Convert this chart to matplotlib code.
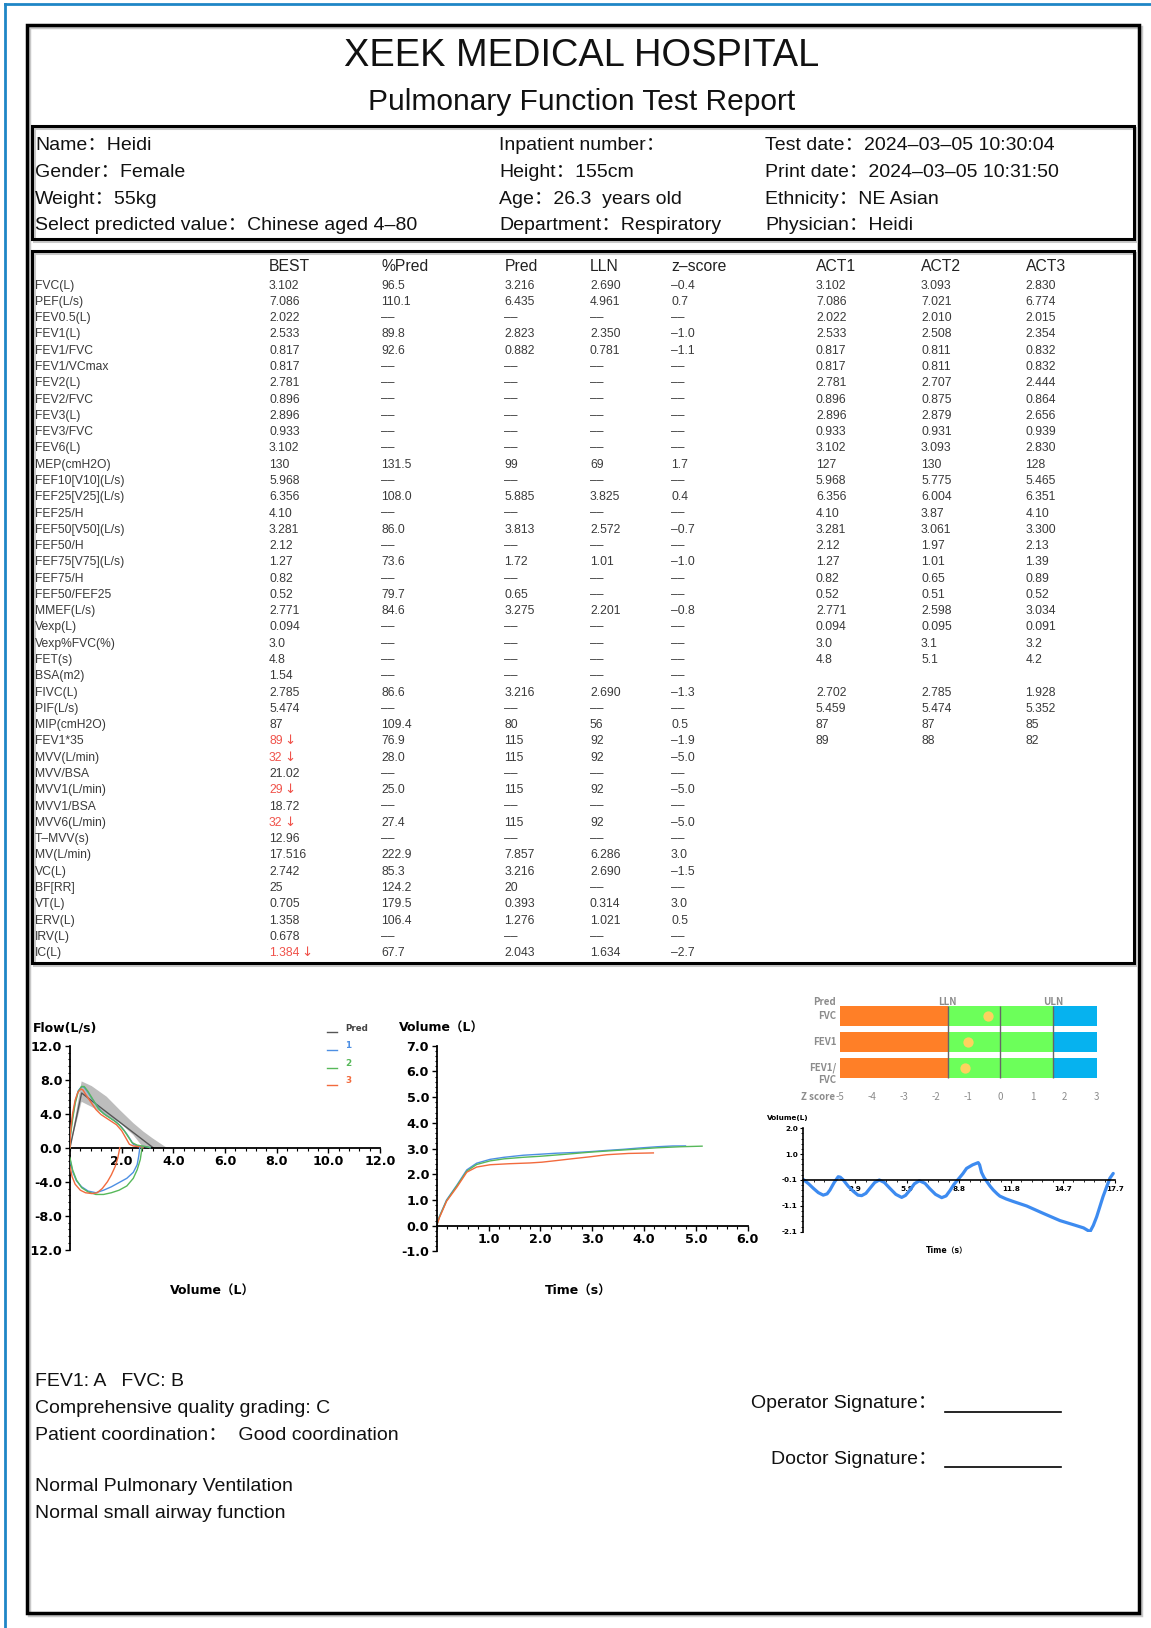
import matplotlib
matplotlib.use("Agg")
import matplotlib.pyplot as plt
from matplotlib.patches import Rectangle
from matplotlib.lines import Line2D
from matplotlib.ticker import AutoMinorLocator
import numpy as np

W, H = 1151, 1628

TEXT_FONT = ["Liberation Sans", "Noto Sans CJK SC", "DejaVu Sans"]
CHART_FONT = ["DejaVu Sans", "Noto Sans CJK SC"]
ZFONT = ["Noto Sans CJK SC", "DejaVu Sans"]

# ---- header / patient info ----
hospital = "XEEK MEDICAL HOSPITAL"
report_title = "Pulmonary Function Test Report"
info_col1 = ["Name：Heidi", "Gender：Female", "Weight：55kg",
             "Select predicted value：Chinese aged 4–80"]
info_col2 = ["Inpatient number：", "Height：155cm", "Age：26.3  years old",
             "Department：Respiratory"]
info_col3 = ["Test date：2024–03–05 10:30:04", "Print date：2024–03–05 10:31:50",
             "Ethnicity：NE Asian", "Physician：Heidi"]

# ---- results table ----
D = "––"
columns = ["BEST", "%Pred", "Pred", "LLN", "z–score", "ACT1", "ACT2", "ACT3"]
params = ["FVC(L)", "PEF(L/s)", "FEV0.5(L)", "FEV1(L)", "FEV1/FVC", "FEV1/VCmax",
          "FEV2(L)", "FEV2/FVC", "FEV3(L)", "FEV3/FVC", "FEV6(L)", "MEP(cmH2O)",
          "FEF10[V10](L/s)", "FEF25[V25](L/s)", "FEF25/H", "FEF50[V50](L/s)",
          "FEF50/H", "FEF75[V75](L/s)", "FEF75/H", "FEF50/FEF25", "MMEF(L/s)",
          "Vexp(L)", "Vexp%FVC(%)", "FET(s)", "BSA(m2)", "FIVC(L)", "PIF(L/s)",
          "MIP(cmH2O)", "FEV1*35", "MVV(L/min)", "MVV/BSA", "MVV1(L/min)",
          "MVV1/BSA", "MVV6(L/min)", "T–MVV(s)", "MV(L/min)", "VC(L)", "BF[RR]",
          "VT(L)", "ERV(L)", "IRV(L)", "IC(L)"]
best = ["3.102", "7.086", "2.022", "2.533", "0.817", "0.817", "2.781", "0.896",
        "2.896", "0.933", "3.102", "130", "5.968", "6.356", "4.10", "3.281", "2.12",
        "1.27", "0.82", "0.52", "2.771", "0.094", "3.0", "4.8", "1.54", "2.785",
        "5.474", "87", "89", "32", "21.02", "29", "18.72", "32", "12.96", "17.516",
        "2.742", "25", "0.705", "1.358", "0.678", "1.384"]
pct_pred = ["96.5", "110.1", D, "89.8", "92.6", D, D, D, D, D, D, "131.5", D,
            "108.0", D, "86.0", D, "73.6", D, "79.7", "84.6", D, D, D, D, "86.6",
            D, "109.4", "76.9", "28.0", D, "25.0", D, "27.4", D, "222.9", "85.3",
            "124.2", "179.5", "106.4", D, "67.7"]
pred = ["3.216", "6.435", D, "2.823", "0.882", D, D, D, D, D, D, "99", D, "5.885",
        D, "3.813", D, "1.72", D, "0.65", "3.275", D, D, D, D, "3.216", D, "80",
        "115", "115", D, "115", D, "115", D, "7.857", "3.216", "20", "0.393",
        "1.276", D, "2.043"]
lln = ["2.690", "4.961", D, "2.350", "0.781", D, D, D, D, D, D, "69", D, "3.825",
       D, "2.572", D, "1.01", D, D, "2.201", D, D, D, D, "2.690", D, "56", "92",
       "92", D, "92", D, "92", D, "6.286", "2.690", D, "0.314", "1.021", D, "1.634"]
zscore = ["–0.4", "0.7", D, "–1.0", "–1.1", D, D, D, D, D, D, "1.7", D, "0.4", D,
          "–0.7", D, "–1.0", D, D, "–0.8", D, D, D, D, "–1.3", D, "0.5", "–1.9",
          "–5.0", D, "–5.0", D, "–5.0", D, "3.0", "–1.5", D, "3.0", "0.5", D, "–2.7"]
act1 = ["3.102", "7.086", "2.022", "2.533", "0.817", "0.817", "2.781", "0.896",
        "2.896", "0.933", "3.102", "127", "5.968", "6.356", "4.10", "3.281", "2.12",
        "1.27", "0.82", "0.52", "2.771", "0.094", "3.0", "4.8", "", "2.702",
        "5.459", "87", "89"] + [""] * 13
act2 = ["3.093", "7.021", "2.010", "2.508", "0.811", "0.811", "2.707", "0.875",
        "2.879", "0.931", "3.093", "130", "5.775", "6.004", "3.87", "3.061", "1.97",
        "1.01", "0.65", "0.51", "2.598", "0.095", "3.1", "5.1", "", "2.785",
        "5.474", "87", "88"] + [""] * 13
act3 = ["2.830", "6.774", "2.015", "2.354", "0.832", "0.832", "2.444", "0.864",
        "2.656", "0.939", "2.830", "128", "5.465", "6.351", "4.10", "3.300", "2.13",
        "1.39", "0.89", "0.52", "3.034", "0.091", "3.2", "4.2", "", "1.928",
        "5.352", "85", "82"] + [""] * 13
below_lln = {"FEV1*35", "MVV(L/min)", "MVV1(L/min)", "MVV6(L/min)", "IC(L)"}

# ---- flow-volume loops (volume L, flow L/s) ----
pred_vol = [0, 0.45, 3.216]
pred_flow = [0, 6.435, 0]
band_top_vol = [0, 0.45, 0.84, 1.42, 1.94, 2.45, 2.84, 3.2, 3.74]
band_top_flow = [0, 7.8, 7.25, 6.0, 4.4, 2.9, 1.9, 1.1, 0]
band_low_vol = [0, 0.45, 0.84, 1.42, 1.94, 2.45, 2.84]
band_low_flow = [0, 5.4, 4.8, 3.8, 2.9, 1.5, 0]

exp1_vol = [0, 0.02, 0.1, 0.2, 0.32, 0.45, 0.55, 0.65, 0.85, 1.05, 1.2, 1.4, 1.6,
            1.8, 2.0, 2.2, 2.35, 2.45, 2.6, 2.8, 3.0, 3.102]
exp1_flow = [0, 1.8, 3.6, 5.4, 6.7, 7.2, 7.1, 6.7, 5.8, 4.9, 4.3, 3.8, 3.4, 3.0,
             2.4, 1.6, 0.9, 0.4, 0.2, 0.15, 0.1, 0]
exp2_vol = [0, 0.02, 0.1, 0.2, 0.32, 0.45, 0.55, 0.7, 0.9, 1.1, 1.3, 1.5, 1.7,
            1.9, 2.1, 2.25, 2.4, 2.6, 2.8, 3.0, 3.093]
exp2_flow = [0, 1.5, 3.3, 5.2, 6.6, 7.2, 7.2, 6.6, 5.6, 4.6, 4.0, 3.6, 3.2, 2.7,
             2.0, 1.3, 0.6, 0.3, 0.2, 0.1, 0]
exp3_vol = [0, 0.02, 0.1, 0.2, 0.3, 0.42, 0.5, 0.6, 0.8, 1.0, 1.2, 1.4, 1.6, 1.8,
            2.0, 2.15, 2.3, 2.45, 2.6, 2.83]
exp3_flow = [0, 2.0, 4.0, 5.6, 6.5, 6.9, 6.8, 6.3, 5.4, 4.5, 3.9, 3.5, 3.1, 2.7,
             2.0, 1.2, 0.4, 0.2, 0.15, 0]
insp1_vol = [0, 0.1, 0.25, 0.45, 0.7, 1.0, 1.3, 1.6, 1.9, 2.2, 2.45, 2.6, 2.66,
             2.69, 2.702]
insp1_flow = [-1.4, -2.8, -3.9, -4.6, -5.1, -5.3, -5.0, -4.6, -4.1, -3.6, -2.9,
              -2.0, -1.0, -0.3, 0]
insp2_vol = [0, 0.1, 0.25, 0.45, 0.7, 1.0, 1.3, 1.6, 1.9, 2.2, 2.45, 2.6, 2.72,
             2.77, 2.785]
insp2_flow = [-1.2, -2.6, -3.8, -4.7, -5.2, -5.5, -5.5, -5.3, -5.0, -4.5, -3.6,
              -2.6, -1.4, -0.4, 0]
insp3_vol = [0, 0.08, 0.2, 0.4, 0.6, 0.85, 1.05, 1.25, 1.45, 1.6, 1.75, 1.85, 1.928]
insp3_flow = [-2.2, -3.4, -4.3, -5.0, -5.3, -5.4, -5.3, -4.8, -4.0, -3.2, -2.2,
              -1.2, 0]

# ---- volume-time curves ----
vt1_t = [0, 0.05, 0.19, 0.39, 0.58, 0.77, 1.03, 1.3, 1.67, 2.0, 2.32, 2.7, 2.96,
         3.3, 3.6, 3.9, 4.25, 4.55, 4.8]
vt1_v = [0, 0.35, 1.0, 1.58, 2.17, 2.43, 2.58, 2.66, 2.74, 2.78, 2.82, 2.85, 2.88,
         2.93, 2.97, 3.02, 3.07, 3.10, 3.102]
vt2_t = [0, 0.05, 0.19, 0.39, 0.58, 0.77, 1.03, 1.3, 1.67, 2.0, 2.5, 2.96, 3.4,
         3.8, 4.25, 4.7, 5.12]
vt2_v = [0, 0.33, 0.97, 1.55, 2.12, 2.38, 2.52, 2.6, 2.66, 2.7, 2.78, 2.86, 2.92,
         2.97, 3.03, 3.07, 3.093]
vt3_t = [0, 0.05, 0.19, 0.39, 0.58, 0.77, 1.03, 1.4, 1.8, 2.03, 2.3, 2.6, 2.96,
         3.28, 3.7, 4.18]
vt3_v = [0, 0.3, 0.95, 1.5, 2.08, 2.28, 2.37, 2.41, 2.44, 2.47, 2.53, 2.6, 2.68,
         2.76, 2.81, 2.83]

# ---- z-score summary ----
z_items = ["FVC", "FEV1", "FEV1/\nFVC"]
z_values = [-0.4, -1.0, -1.1]
z_lln, z_uln = -1.645, 1.645
z_ticks = [-5, -4, -3, -2, -1, 0, 1, 2, 3]

# ---- tidal breathing trace ----
tb_t = [0, 0.3, 0.57, 0.85, 1.13, 1.35, 1.51, 1.75, 1.98, 2.1, 2.27, 2.55, 2.84,
        3.1, 3.31, 3.55, 3.78, 4.05, 4.31, 4.6, 4.91, 5.25, 5.58, 5.8, 6.05, 6.3,
        6.58, 6.9, 7.18, 7.5, 7.85, 8.1, 8.32, 8.55, 8.79, 9.05, 9.26, 9.6, 9.92,
        10.0, 10.11, 10.25, 10.4, 10.6, 10.78, 11.0, 11.15, 11.5, 11.9, 12.67,
        13.6, 14.56, 15.4, 15.9, 16.26, 16.45, 16.64, 17.0, 17.39, 17.58]
tb_v = [-0.03, -0.2, -0.38, -0.55, -0.65, -0.6, -0.45, -0.15, 0.08, 0.06, -0.05,
        -0.3, -0.5, -0.65, -0.67, -0.58, -0.38, -0.15, -0.05, -0.15, -0.38, -0.62,
        -0.74, -0.66, -0.45, -0.2, -0.08, -0.18, -0.4, -0.62, -0.75, -0.68, -0.47,
        -0.22, -0.02, 0.2, 0.41, 0.55, 0.64, 0.55, 0.25, 0.05, -0.1, -0.3, -0.45,
        -0.6, -0.69, -0.8, -0.9, -1.08, -1.37, -1.66, -1.84, -1.95, -2.1, -1.85,
        -1.51, -0.71, 0.02, 0.21]
tb_xticks = ["2.9", "5.9", "8.8", "11.8", "14.7", "17.7"]
tb_yticks = ["-2.1", "-1.1", "-0.1", "1.0", "2.0"]

C1, C2, C3 = "#4d8fe3", "#57b85a", "#f26a3d"
PRED_C = "#555555"
LOW_C = "#f0524a"


def fx(x):
    return x / W


def fy(y):
    return 1 - y / H


def axes_px(x0, y0, x1, y1):
    return fig.add_axes([x0 / W, 1 - y1 / H, (x1 - x0) / W, (y1 - y0) / H])


def box(x0, y0, x1, y1, lw=2.2):
    # faint shadow then the black outline
    fig.add_artist(Rectangle((fx(x0 + 1.5), fy(y1 + 1.5)), (x1 - x0) / W, (y1 - y0) / H,
                             transform=fig.transFigure, fill=False, lw=lw, ec="#c8c8c8"))
    fig.add_artist(Rectangle((fx(x0), fy(y1)), (x1 - x0) / W, (y1 - y0) / H,
                             transform=fig.transFigure, fill=False, lw=lw, ec="black"))


def txt(x, y, s, size, **kw):
    kw.setdefault("family", TEXT_FONT)
    kw.setdefault("va", "baseline")
    return fig.text(fx(x), fy(y), s, fontsize=size, **kw)


fig = plt.figure(figsize=(W / 100, H / 100), dpi=100)
fig.patch.set_facecolor("white")
renderer = fig.canvas.get_renderer()

# blue page edge
fig.add_artist(Line2D([fx(5), 1], [fy(4), fy(4)], transform=fig.transFigure,
                      color="#1f86c6", lw=2))
fig.add_artist(Line2D([fx(5), fx(5)], [fy(4), 0], transform=fig.transFigure,
                      color="#1f86c6", lw=2))

box(27, 25, 1139, 1613, lw=2.5)
box(32, 126, 1134, 239)
box(32, 251, 1134, 963)

txt(W / 2 + 6, 65.5, hospital, 27.4, ha="center", color="#111111")
txt(W / 2 + 6, 109.5, report_title, 21.5, ha="center", color="#111111")

info_base = [150.5, 177, 203.5, 230]
for col_x, col in zip([35, 499, 765], [info_col1, info_col2, info_col3]):
    for yb, s in zip(info_base, col):
        txt(col_x, yb, s, 14, color="#111111")

# table
col_x = [269, 381, 504.5, 590, 671, 816, 921, 1025.5]
for cx, name in zip(col_x, columns):
    txt(cx, 271, name, 11.3, color="#222222")
row0, row_step = 288.6, 16.28
table_cols = [best, pct_pred, pred, lln, zscore, act1, act2, act3]
for i, p in enumerate(params):
    yb = row0 + i * row_step
    txt(35, yb, p, 8.7, color="#3a3a3a")
    for j, (cx, col) in enumerate(zip(col_x, table_cols)):
        if j == 0 and p in below_lln:
            t = txt(cx, yb, col[i], 8.7, color=LOW_C)
            right = t.get_window_extent(renderer).x1
            fig.text((right + 2) / W, fy(yb), "↓", fontsize=9.5, color=LOW_C,
                     family=["DejaVu Sans"], va="baseline")
        else:
            txt(cx, yb, col[i], 8.7, color="#3a3a3a")

# flow-volume loop
ax = axes_px(70, 1045.7, 380, 1249.7)
ax.fill(band_top_vol + band_low_vol[::-1], band_top_flow + band_low_flow[::-1],
        color="#bdbdbd", lw=0, zorder=1)
ax.plot(pred_vol, pred_flow, color=PRED_C, lw=1, zorder=2)
for v, f, c in [(exp1_vol, exp1_flow, C1), (exp2_vol, exp2_flow, C2),
                (exp3_vol, exp3_flow, C3), (insp1_vol, insp1_flow, C1),
                (insp2_vol, insp2_flow, C2), (insp3_vol, insp3_flow, C3)]:
    ax.plot(v, f, color=c, lw=1, zorder=3)
ax.set_xlim(0, 12)
ax.set_ylim(-12, 12)
ax.set_xticks([2, 4, 6, 8, 10, 12])
ax.set_yticks([-12, -8, -4, 0, 4, 8, 12])
ax.set_xticklabels(["%.1f" % t for t in ax.get_xticks()])
ax.set_yticklabels(["%.1f" % t for t in ax.get_yticks()])

legend_rows = [("Pred", PRED_C, "#444444"), ("1", C1, C1), ("2", C2, C2), ("3", C3, C3)]
for k, (lab, lc, tc) in enumerate(legend_rows):
    yy = 1.085 - k * 0.086
    ax.plot([0.828, 0.860], [yy - 0.02, yy - 0.02], color=lc, lw=1,
            transform=ax.transAxes, clip_on=False)
    ax.text(0.887, yy, lab, color=tc, fontsize=6.3, fontweight="bold",
            family=CHART_FONT, transform=ax.transAxes, va="center")

# volume-time curves
ax2 = axes_px(436.7, 1045.7, 747.7, 1251.4)
ax2.plot(vt1_t, vt1_v, color=C1, lw=1)
ax2.plot(vt2_t, vt2_v, color=C2, lw=1)
ax2.plot(vt3_t, vt3_v, color=C3, lw=1)
ax2.set_xlim(0, 6)
ax2.set_ylim(-1, 7)
ax2.set_xticks([1, 2, 3, 4, 5, 6])
ax2.set_yticks(list(range(-1, 8)))
ax2.set_xticklabels(["%.1f" % t for t in ax2.get_xticks()])
ax2.set_yticklabels(["%.1f" % t for t in ax2.get_yticks()])

for a in (ax, ax2):
    a.patch.set_alpha(0)
    a.spines["top"].set_visible(False)
    a.spines["right"].set_visible(False)
    a.spines["bottom"].set_position(("data", 0))
    a.spines["left"].set_linewidth(1.3)
    a.spines["bottom"].set_linewidth(1.3)
    a.xaxis.set_minor_locator(AutoMinorLocator(5))
    a.yaxis.set_minor_locator(AutoMinorLocator(5))
    a.tick_params(which="major", length=3.5, width=1, pad=2)
    a.tick_params(which="minor", length=1.8, width=0.8)
    for lab in a.get_xticklabels() + a.get_yticklabels():
        lab.set_fontweight("bold")
        lab.set_fontsize(9.2)
        lab.set_family(CHART_FONT)

fig.text(fx(33), fy(1028.3), "Flow(L/s)", fontsize=9, fontweight="bold",
         family=CHART_FONT, va="center")
fig.text(fx(212), fy(1291.7), "Volume（L）", fontsize=9, fontweight="bold",
         family=CHART_FONT, va="center", ha="center")
fig.text(fx(399), fy(1028.3), "Volume（L）", fontsize=9, fontweight="bold",
         family=CHART_FONT, va="center")
fig.text(fx(578), fy(1291.7), "Time（s）", fontsize=9, fontweight="bold",
         family=CHART_FONT, va="center", ha="center")

# z-score bars
zax = axes_px(840, 992.6, 1096.7, 1104.4)
rows = np.arange(len(z_items))
zax.barh(rows, z_lln + 5, left=-5, height=0.77, color="#ff7f27")
zax.barh(rows, z_uln - z_lln, left=z_lln, height=0.77, color="#6cff5a")
zax.barh(rows, 3 - z_uln, left=z_uln, height=0.77, color="#06b2ef")
zax.vlines([z_lln, 0, z_uln], -0.385, len(z_items) - 0.615, colors="#666666", lw=1)
zax.scatter(z_values, rows, s=55, color="#fdd25e", zorder=3, lw=0)
zax.set_xlim(-5, 3)
zax.set_ylim(3.4, -0.9)
zax.axis("off")
zkw = dict(color="#8c8c8c", fontsize=7, fontweight="bold", family=ZFONT)
zax.text(-5.12, -0.55, "Pred", ha="right", va="center", **zkw)
for i, lab in enumerate(z_items):
    yy = i + 0.22 if "\n" in lab else i
    zax.text(-5.12, yy, lab, ha="right", va="center", linespacing=1.15, **zkw)
zax.text(z_lln, -0.55, "LLN", ha="center", va="center", **zkw)
zax.text(z_uln, -0.55, "ULN", ha="center", va="center", **zkw)
zax.text(-5.17, 3.12, "Z score", ha="right", va="center", **zkw)
for t in z_ticks:
    zax.text(t, 3.12, str(t), ha="center", va="center",
             **dict(zkw, fontweight="normal"))

# tidal breathing trace
bax = axes_px(803.3, 1128.3, 1115, 1231.7)
bax.plot(tb_t, tb_v, color="#3d8bf0", lw=2.3, solid_capstyle="round")
bax.set_xlim(0, 17.68)
bax.set_ylim(-2.1, 2.0)
ypos = np.linspace(-2.1, 2.0, len(tb_yticks))
xpos = np.linspace(0, 17.68, len(tb_xticks) + 1)[1:]
bax.set_yticks(ypos)
bax.set_yticklabels(tb_yticks)
bax.set_xticks(xpos)
bax.set_xticklabels(tb_xticks)
bax.patch.set_alpha(0)
bax.spines["top"].set_visible(False)
bax.spines["right"].set_visible(False)
bax.spines["bottom"].set_position(("data", ypos[2]))
bax.spines["left"].set_linewidth(1.2)
bax.spines["bottom"].set_linewidth(1.2)
bax.xaxis.set_minor_locator(AutoMinorLocator(5))
bax.yaxis.set_minor_locator(AutoMinorLocator(5))
bax.tick_params(which="major", length=2.5, width=0.8, pad=1.5)
bax.tick_params(which="minor", length=1.3, width=0.6)
for lab in bax.get_xticklabels() + bax.get_yticklabels():
    lab.set_fontweight("bold")
    lab.set_fontsize(5.2)
    lab.set_family(CHART_FONT)
fig.text(fx(767), fy(1118), "Volume(L)", fontsize=5.2, fontweight="bold",
         family=CHART_FONT, va="center")
fig.text(fx(947), fy(1250), "Time（s）", fontsize=5.6, fontweight="bold",
         family=CHART_FONT, va="center", ha="center")

# conclusions and signatures
for yb, s in zip([1386.5, 1413, 1440, 1491, 1518],
                 ["FEV1: A   FVC: B", "Comprehensive quality grading: C",
                  "Patient coordination：  Good coordination",
                  "Normal Pulmonary Ventilation", "Normal small airway function"]):
    txt(35, yb, s, 14, color="#111111")
txt(937, 1408, "Operator Signature：", 14, ha="right", color="#111111")
txt(937, 1464, "Doctor Signature：", 14, ha="right", color="#111111")
for yl in (1411.7, 1466.7):
    fig.add_artist(Line2D([fx(945), fx(1061)], [fy(yl), fy(yl)],
                          transform=fig.transFigure, color="black", lw=1.2))

fig.savefig("out.png", dpi=100)
